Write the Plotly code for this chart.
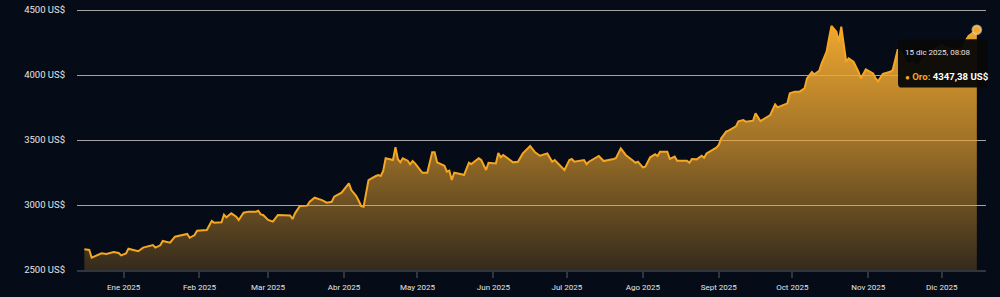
import plotly.graph_objects as go

dates = [
    "2024-12-16", "2024-12-18", "2024-12-19", "2024-12-21", "2024-12-23", "2024-12-25", "2024-12-28", "2024-12-30", "2024-12-31",
    "2025-01-02", "2025-01-03", "2025-01-05", "2025-01-07", "2025-01-09", "2025-01-13", "2025-01-14", "2025-01-16", "2025-01-17",
    "2025-01-20", "2025-01-22", "2025-01-27", "2025-01-28", "2025-01-30", "2025-01-31",
    "2025-02-04", "2025-02-06", "2025-02-07", "2025-02-10", "2025-02-11", "2025-02-12", "2025-02-14", "2025-02-16", "2025-02-17",
    "2025-02-19", "2025-02-21", "2025-02-24", "2025-02-25", "2025-02-26", "2025-02-27",
    "2025-03-01", "2025-03-03", "2025-03-05", "2025-03-08", "2025-03-10", "2025-03-11", "2025-03-12", "2025-03-14", "2025-03-17",
    "2025-03-18", "2025-03-20", "2025-03-23", "2025-03-25", "2025-03-27", "2025-03-28", "2025-03-31",
    "2025-04-01", "2025-04-03", "2025-04-04", "2025-04-06", "2025-04-07", "2025-04-08", "2025-04-09", "2025-04-11", "2025-04-14",
    "2025-04-15", "2025-04-16", "2025-04-17", "2025-04-18", "2025-04-21", "2025-04-22", "2025-04-23", "2025-04-24", "2025-04-25",
    "2025-04-27", "2025-04-28", "2025-04-29", "2025-04-30",
    "2025-05-03", "2025-05-05", "2025-05-07", "2025-05-08", "2025-05-09", "2025-05-12", "2025-05-13", "2025-05-14", "2025-05-15",
    "2025-05-16", "2025-05-19", "2025-05-20", "2025-05-22", "2025-05-23", "2025-05-26", "2025-05-27", "2025-05-29", "2025-05-30",
    "2025-06-02", "2025-06-03", "2025-06-04", "2025-06-05", "2025-06-09", "2025-06-11", "2025-06-13", "2025-06-16", "2025-06-18",
    "2025-06-20", "2025-06-23", "2025-06-25", "2025-06-26", "2025-06-30",
    "2025-07-02", "2025-07-03", "2025-07-04", "2025-07-07", "2025-07-08", "2025-07-09", "2025-07-10", "2025-07-14", "2025-07-16",
    "2025-07-20", "2025-07-21", "2025-07-23", "2025-07-25", "2025-07-28", "2025-07-29", "2025-07-30",
    "2025-08-01", "2025-08-02", "2025-08-04", "2025-08-06", "2025-08-07", "2025-08-08", "2025-08-11", "2025-08-12", "2025-08-14",
    "2025-08-15", "2025-08-19", "2025-08-20", "2025-08-21", "2025-08-23", "2025-08-25", "2025-08-26", "2025-08-27", "2025-08-31",
    "2025-09-01", "2025-09-02", "2025-09-04", "2025-09-05", "2025-09-08", "2025-09-09", "2025-09-11", "2025-09-12", "2025-09-15",
    "2025-09-16", "2025-09-18", "2025-09-22", "2025-09-24", "2025-09-25", "2025-09-29", "2025-09-30",
    "2025-10-02", "2025-10-04", "2025-10-06", "2025-10-07", "2025-10-09", "2025-10-10", "2025-10-12", "2025-10-13", "2025-10-15",
    "2025-10-16", "2025-10-17", "2025-10-19", "2025-10-20", "2025-10-21", "2025-10-22", "2025-10-23", "2025-10-24", "2025-10-26",
    "2025-10-28", "2025-10-29", "2025-10-31",
    "2025-11-02", "2025-11-03", "2025-11-04", "2025-11-05", "2025-11-07", "2025-11-10", "2025-11-11", "2025-11-12", "2025-11-13",
    "2025-11-14", "2025-11-17", "2025-11-19", "2025-11-21", "2025-11-24", "2025-11-26", "2025-11-28",
    "2025-12-01", "2025-12-03", "2025-12-05", "2025-12-08", "2025-12-10", "2025-12-11", "2025-12-12", "2025-12-15 08:08",
]

prices = [
    2659, 2654, 2595, 2610, 2628, 2623, 2638, 2631, 2613,
    2628, 2664, 2654, 2644, 2672, 2692, 2672, 2690, 2723, 2710, 2756, 2777, 2748, 2769, 2802,
    2808, 2877, 2864, 2867, 2925, 2905, 2936, 2910, 2885, 2941, 2949, 2949, 2956, 2928, 2923,
    2885, 2872, 2923, 2918, 2920, 2892, 2936, 2992, 2995, 3025, 3056, 3038, 3018, 3025, 3064, 3095,
    3121, 3167, 3115, 3069, 3033, 2992, 2987, 3192, 3223, 3231, 3223, 3262, 3359, 3346, 3444, 3352,
    3328, 3359, 3341, 3313, 3338, 3320,
    3248, 3248, 3405, 3405, 3328, 3302, 3256, 3264, 3192, 3248, 3236, 3231, 3325, 3315, 3359, 3346, 3269, 3325,
    3320, 3400, 3367, 3385, 3328, 3333, 3397, 3454, 3405, 3379, 3397, 3333, 3346, 3269,
    3346, 3354, 3333, 3341, 3346, 3315, 3333, 3377, 3338, 3354, 3360, 3436, 3385, 3341, 3325, 3333,
    3290, 3295, 3367, 3390, 3377, 3410, 3410, 3354, 3372, 3341, 3341, 3325, 3354, 3351, 3379, 3364, 3397, 3441,
    3462, 3513, 3564, 3572, 3605, 3644, 3654, 3641, 3649, 3705, 3646, 3692, 3774, 3751, 3782, 3859,
    3872, 3872, 3897, 3974, 4023, 4005, 4033, 4090, 4179, 4282, 4377, 4333, 4256, 4372, 4218, 4102, 4128, 4102,
    4025, 3974, 4043,
    4025, 4012, 3974, 3951, 4008, 4025, 4038, 4128, 4192, 4190, 4080, 4100, 4070, 4130, 4160, 4200,
    4230, 4210, 4205, 4195, 4210, 4269, 4300, 4347.38,
]

month_ticks = ["2025-01-01", "2025-02-01", "2025-03-01", "2025-04-01", "2025-05-01", "2025-06-01",
               "2025-07-01", "2025-08-01", "2025-09-01", "2025-10-01", "2025-11-01", "2025-12-01"]
month_labels = ["Ene 2025", "Feb 2025", "Mar 2025", "Abr 2025", "May 2025", "Jun 2025",
                "Jul 2025", "Ago 2025", "Sept 2025", "Oct 2025", "Nov 2025", "Dic 2025"]
y_ticks = [2500, 3000, 3500, 4000, 4500]
y_labels = ["2500 US$", "3000 US$", "3500 US$", "4000 US$", "4500 US$"]

tooltip_date = "15 dic 2025, 08:08"
series_name = "Oro"
tooltip_value = "4347,38 US$"

BG = "#050b17"
GOLD = "#f5a623"
FONT = "Roboto"

fig = go.Figure()
fig.add_trace(go.Scatter(
    x=dates, y=prices, mode="lines",
    line=dict(color=GOLD, width=2),
    fill="tozeroy",
    fillgradient=dict(
        type="vertical", start=2500, stop=4400,
        colorscale=[[0, "rgba(240,168,48,0.2)"], [0.5, "rgba(240,168,48,0.64)"], [1, "rgba(240,168,48,1)"]],
    ),
    hoverinfo="skip", showlegend=False,
))
fig.add_trace(go.Scatter(
    x=[dates[-1]], y=[prices[-1]], mode="markers",
    marker=dict(size=8.5, color=GOLD, line=dict(width=2.2, color="rgba(230,205,160,0.7)")),
    hoverinfo="skip", showlegend=False,
))

# tooltip box (rounded rectangle in paper coords)
x0, x1, y0, y1 = 0.9032, 1.0022, 0.6935, 0.8774
rx, ry = 0.0045, 0.016
path = (f"M {x0+rx},{y1} L {x1-rx},{y1} Q {x1},{y1} {x1},{y1-ry} L {x1},{y0+ry} Q {x1},{y0} {x1-rx},{y0} "
        f"L {x0+rx},{y0} Q {x0},{y0} {x0},{y0+ry} L {x0},{y1-ry} Q {x0},{y1} {x0+rx},{y1} Z")
fig.add_shape(type="path", path=path, xref="paper", yref="paper",
              fillcolor="rgba(8,8,8,0.96)", line=dict(width=0), layer="above")
fig.add_annotation(xref="paper", yref="paper", x=0.9087, y=0.8264, xanchor="left", yanchor="middle",
                   text=tooltip_date, showarrow=False, font=dict(family=FONT, size=8, color="#e6e6e6"))
fig.add_annotation(xref="paper", yref="paper", x=0.9087, y=0.7345, xanchor="left", yanchor="middle",
                   text=(f"<span style='color:{GOLD};font-size:8px'>●</span> <b><span style='color:{GOLD}'>{series_name}:</span> "
                         f"{tooltip_value}</b>"),
                   showarrow=False, font=dict(family=FONT, size=9.6, color="#ffffff"))

fig.update_layout(
    width=1000, height=297,
    margin=dict(l=77, r=14, t=7, b=27),
    paper_bgcolor=BG, plot_bgcolor=BG,
    font=dict(family=FONT, color="#e6e6e6"),
    xaxis=dict(
        range=["2024-12-13", "2025-12-19 02:00"],
        tickvals=month_ticks, ticktext=month_labels,
        tickfont=dict(size=8, color="#e6e6e6"),
        showgrid=False, zeroline=False,
        showline=True, linecolor="#30353e", linewidth=2,
        ticks="outside", ticklen=6, tickwidth=1.5, tickcolor="#30353e",
        ticklabelstandoff=2,
        automargin=False,
    ),
    yaxis=dict(
        range=[2500, 4523.08],
        tickvals=y_ticks, ticktext=y_labels,
        tickfont=dict(size=9.5, color="#e6e6e6"),
        showgrid=True, gridcolor="#a3a3a3", gridwidth=1.3,
        zeroline=False, showline=False, ticks="",
        ticklabelstandoff=11,
        automargin=False,
    ),
)

fig.write_html("out.html")
